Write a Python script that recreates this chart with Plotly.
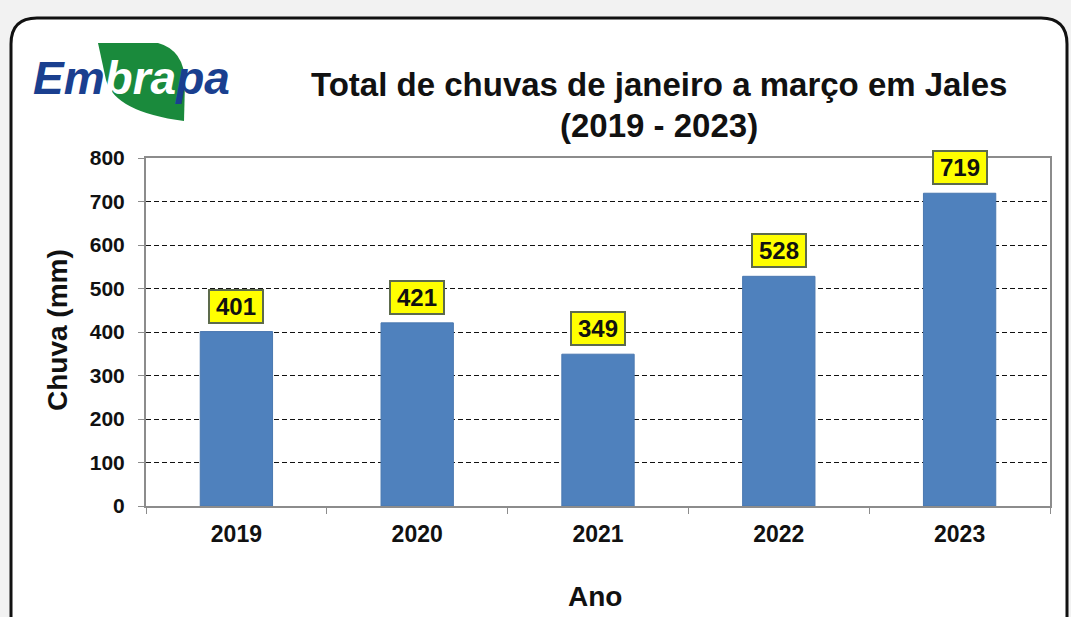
import plotly.graph_objects as go

years = ["2019", "2020", "2021", "2022", "2023"]
rain_mm = [401, 421, 349, 528, 719]
y_ticks = [0, 100, 200, 300, 400, 500, 600, 700, 800]

W, H = 1071, 617
L, R, T, B = 146, 1050, 158, 506

def px(x):
    return (x - L) / (R - L)

def py(y):
    return (B - y) / (B - T)

FONT = "Arial, Liberation Sans, sans-serif"

fig = go.Figure()
fig.add_trace(go.Bar(
    x=years, y=rain_mm, width=0.4,
    marker=dict(color="#4f81bd", line=dict(color="#4a78b0", width=1)),
    hoverinfo="x+y",
))

annotations = []
for i, v in enumerate(rain_mm):
    annotations.append(dict(
        x=i, y=v, xref="x", yref="y", text="<b>%d</b>" % v, showarrow=False,
        xanchor="center", yanchor="bottom", yshift=8, width=48, height=27,
        font=dict(family=FONT, size=24, color="#111"),
        bgcolor="#ffff00", bordercolor="#5d6b4c", borderwidth=2, borderpad=2,
    ))

def pann(x, y, text, size, **kw):
    d = dict(x=px(x), y=py(y), xref="paper", yref="paper", text=text, showarrow=False,
             xanchor="center", yanchor="middle", font=dict(family=FONT, size=size, color="#111"))
    d.update(kw)
    return d

annotations.append(pann(659, 84, "<b>Total de chuvas de janeiro a março em Jales</b>", 33))
annotations.append(pann(659, 125, "<b>(2019 - 2023)</b>", 33))
annotations.append(pann(57, 330, "<b>Chuva (mm)</b>", 28, textangle=-90))
annotations.append(pann(595, 596, "<b>Ano</b>", 28))
annotations.append(pann(131, 78,
                        "<b><i><span style='color:#1a3f8f'>Em</span>"
                        "<span style='color:#ffffff'>bra</span>"
                        "<span style='color:#1a3f8f'>pa</span></i></b>", 46))

leaf = ("M {a},{b} L {c},{b} Q {d},{e} {f},{g} L {h},{i} Q {j},{k} {l},{m} Z").format(
    a=px(98), b=py(43), c=px(158), d=px(184), e=py(50), f=px(185), g=py(82),
    h=px(184), i=py(121), j=px(115), k=py(112), l=px(106), m=py(80))

shapes = [
    dict(type="path", xref="paper", yref="paper", layer="below",
         path="M {x0},{y1} L {x0},{ya} Q {x0},{yt} {xa},{yt} L {xb},{yt} Q {x1},{yt} {x1},{ya} L {x1},{y1} Z".format(
             x0=px(11), x1=px(1067), yt=py(18), ya=py(44), xa=px(37), xb=px(1041), y1=py(640)),
         fillcolor="white", line=dict(color="#111", width=3)),
    dict(type="path", xref="paper", yref="paper", layer="below", path=leaf,
         fillcolor="#1a8a3c", line=dict(width=0)),
]

fig.update_layout(
    width=W, height=H,
    margin=dict(l=L, r=W - R, t=T, b=H - B, autoexpand=False),
    paper_bgcolor="#f2f2f2", plot_bgcolor="white",
    showlegend=False,
    annotations=annotations, shapes=shapes,
    font=dict(family=FONT, color="#111"),
)
fig.update_xaxes(
    type="category", range=[-0.5, 4.5], showline=True, linecolor="#8c8c8c", linewidth=2, mirror=True,
    ticks="outside", tickson="boundaries", ticklen=6, tickcolor="#8c8c8c",
    tickfont=dict(family=FONT, size=23, color="#111", weight="bold"), ticklabelstandoff=6,
    showgrid=False, tickangle=0,
)
fig.update_yaxes(
    range=[0, 800], tickvals=y_ticks, showline=True, linecolor="#8c8c8c", linewidth=2, mirror=True,
    ticks="outside", ticklen=6, tickcolor="#8c8c8c",
    tickfont=dict(family=FONT, size=21, color="#111", weight="bold"), ticklabelstandoff=9,
    showgrid=True, gridcolor="#111", gridwidth=1, griddash="5px,3px", zeroline=False,
)

fig.write_html("out.html", config={"displayModeBar": False},
               post_script="document.body.style.margin='0';document.body.style.overflow='hidden';")
